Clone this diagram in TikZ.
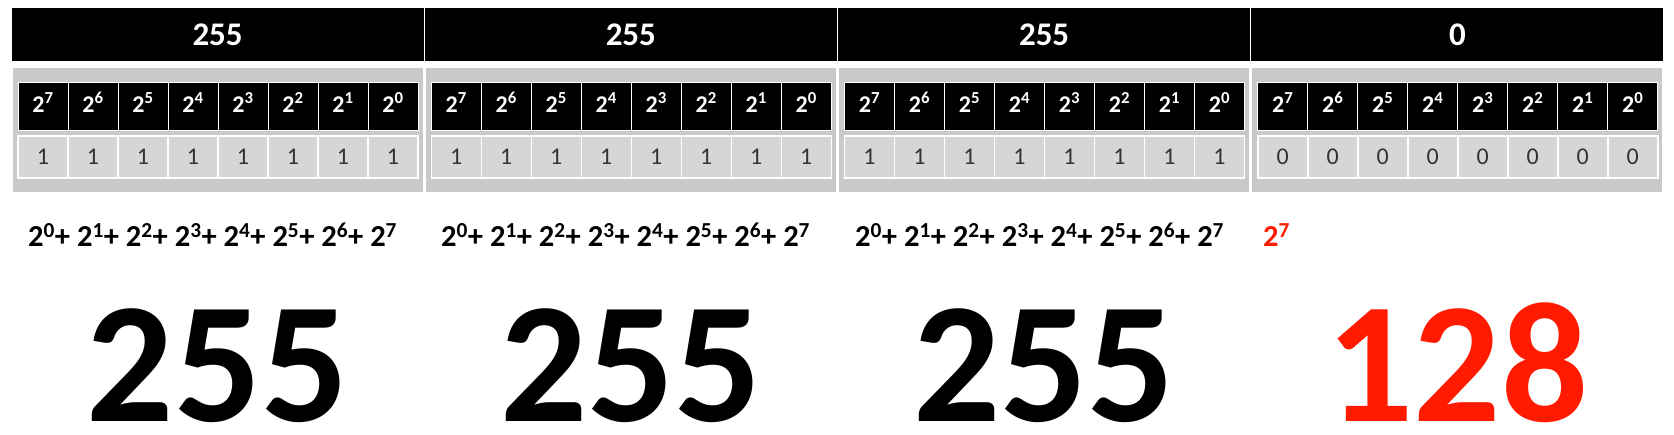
\documentclass[tikz,border=0pt]{standalone}
\usepackage{fontspec}
\setmainfont{Carlito}
\definecolor{panelgray}{HTML}{C9C9C9}
\definecolor{cellgray}{HTML}{D6D6D6}
\definecolor{bitred}{HTML}{FF1A00}
\newcommand{\pwr}[1]{2\textsuperscript{#1}}
\newcommand{\sumline}{\pwr{0}+ \pwr{1}+ \pwr{2}+ \pwr{3}+ \pwr{4}+ \pwr{5}+ \pwr{6}+ \pwr{7}}
\tikzset{
  octet/.style={fill=black,draw=white,line width=1pt,minimum width=413pt,minimum height=54pt,inner sep=0pt,text=white,font=\bfseries\fontsize{33}{33}\selectfont},
  panel/.style={fill=panelgray,minimum width=410pt,minimum height=124pt,inner sep=0pt},
  bithead/.style={fill=black,draw=white,line width=1pt,minimum width=50pt,minimum height=48pt,inner sep=0pt,text height=15pt,text depth=3pt,text=white,font=\bfseries\fontsize{24}{24}\selectfont},
  bitval/.style={fill=cellgray,draw=white,line width=1.5pt,minimum width=50pt,minimum height=42pt,inner sep=0pt,text=black!80,font=\fontsize{24}{24}\selectfont},
  sumtext/.style={anchor=base west,inner sep=0pt,font=\bfseries\fontsize{30.5}{30.5}\selectfont},
  bignum/.style={anchor=base,inner sep=0pt,text depth=0pt,font=\bfseries\fontsize{172}{172}\selectfont}
}
\begin{document}
\begin{tikzpicture}[x=1pt,y=-1pt]
\useasboundingbox (0,0) rectangle (1674,435);
% four octets
\foreach \g/\dec/\bit in {0/255/1,1/255/1,2/255/1,3/0/0}{
  \pgfmathsetmacro{\ox}{11+413.25*\g}
  \node[octet] (hdr\g) at (\ox+206.6,35) {\dec};
  \node[panel] (pnl\g) at (\ox+206.6,130) {};
  \foreach \k in {0,...,7}{
    \pgfmathtruncatemacro{\e}{7-\k}
    \node[bithead] (pow\g-\k) at (\ox+32+50*\k,107) {\pwr{\e}};
    \node[bitval] (val\g-\k) at (\ox+32+50*\k,157) {\bit};
  }
}
% sums
\node[sumtext] (sum0) at (28,247) {\sumline};
\node[sumtext] (sum1) at (441,247) {\sumline};
\node[sumtext] (sum2) at (855,247) {\sumline};
\node[sumtext,text=bitred] (sum3) at (1263,247) {\pwr{7}};
% decimal values
\node[bignum] (dec0) at (217.6,422) {255};
\node[bignum] (dec1) at (630.9,422) {255};
\node[bignum] (dec2) at (1044.1,422) {255};
\node[bignum,text=bitred] (dec3) at (1457.4,422) {128};
\end{tikzpicture}
\end{document}
